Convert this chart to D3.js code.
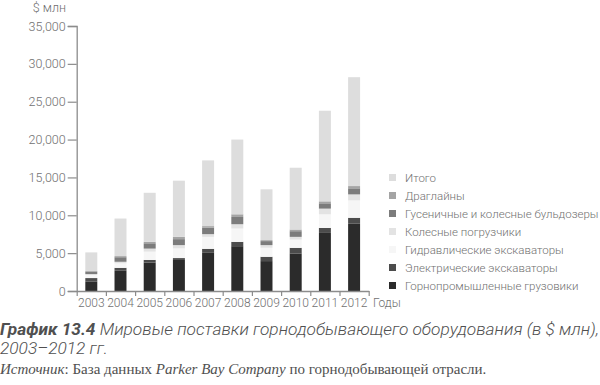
<!DOCTYPE html>
<html>
<head>
<meta charset="utf-8">
<script src="https://cdn.jsdelivr.net/npm/d3@7"></script>
<style>
  body { margin: 0; background: #fff; }
  svg { display: block; }
</style>
</head>
<body>
<div id="chart"></div>
<script>
var svgWidth = 600;
var svgHeight = 385;

// data, $ mln
var years = ["2003", "2004", "2005", "2006", "2007", "2008", "2009", "2010", "2011", "2012"];
var trucks     = [1220, 2670, 3750, 4100, 5040, 5920, 3950, 4960, 7670, 8880];
var electric   = [490, 390, 350, 250, 530, 570, 570, 740, 660, 790];
var hydraulic  = [400, 600, 1100, 1280, 1580, 1760, 1190, 1100, 1800, 2300];
var loaders    = [130, 200, 400, 430, 360, 570, 350, 350, 750, 790];
var bulldozers = [300, 600, 700, 790, 860, 960, 530, 750, 700, 800];
var draglines  = [100, 150, 200, 300, 200, 350, 130, 220, 260, 300];
var totals     = [2460, 4960, 6470, 7420, 8680, 9870, 6710, 8160, 11970, 14380];
var yTicks = [0, 5000, 10000, 15000, 20000, 25000, 30000, 35000];

// series bottom -> top
var series = [
  {key: "trucks", name: "Горнопромышленные грузовики", values: trucks, color: "#2b2b2b"},
  {key: "electric", name: "Электрические экскаваторы", values: electric, color: "#4c4c4c"},
  {key: "hydraulic", name: "Гидравлические экскаваторы", values: hydraulic, color: "#f6f6f6"},
  {key: "loaders", name: "Колесные погрузчики", values: loaders, color: "#e3e3e3"},
  {key: "bulldozers", name: "Гусеничные и колесные бульдозеры", values: bulldozers, color: "#7c7c7c"},
  {key: "draglines", name: "Драглайны", values: draglines, color: "#a4a4a4"},
  {key: "total", name: "Итого", values: totals, color: "#dddddd"}
];

var table = years.map(function(y, i) {
  var row = {year: y};
  series.forEach(function(s) { row[s.key] = s.values[i]; });
  return row;
});

var stacked = d3.stack().keys(series.map(function(s) { return s.key; }))(table);

var svg = d3.select("#chart").append("svg")
  .attr("width", svgWidth)
  .attr("height", svgHeight);

var x0 = 76.7, x1 = 368.7, yBottom = 291, yTop = 26;

var xScale = d3.scaleBand()
  .domain(years)
  .range([x0, x1])
  .paddingInner(0.59)
  .paddingOuter(0.295);

var yScale = d3.scaleLinear()
  .domain([0, 35000])
  .range([yBottom, yTop]);

var axisColor = "#8c8c8c";
var textColor = "#707070";

// bars
svg.append("g").selectAll("g")
  .data(stacked)
  .enter()
  .append("g")
  .attr("fill", function(d, i) { return series[i].color; })
  .selectAll("rect")
  .data(function(d) { return d; })
  .enter()
  .append("rect")
  .attr("x", function(d) { return xScale(d.data.year); })
  .attr("y", function(d) { return yScale(d[1]); })
  .attr("height", function(d) { return yScale(d[0]) - yScale(d[1]); })
  .attr("width", xScale.bandwidth());

// y axis
var yAxis = svg.append("g")
  .attr("transform", "translate(" + x0 + ",0)")
  .call(d3.axisLeft(yScale).tickValues(yTicks).tickSize(9).tickPadding(2)
    .tickFormat(d3.format(",")));
yAxis.select(".domain").attr("stroke", axisColor).attr("stroke-width", 1.3);
yAxis.selectAll(".tick line").attr("stroke", axisColor).attr("stroke-width", 1.2);
yAxis.selectAll("text")
  .attr("fill", textColor)
  .style("font-family", "Roboto")
  .style("font-size", "12.5px")
  .style("font-weight", 300);

// x axis: ticks on band edges
var edgeScale = d3.scaleLinear().domain([0, years.length]).range([x0, x1]);
var xAxis = svg.append("g")
  .attr("transform", "translate(0," + yBottom + ")")
  .call(d3.axisBottom(edgeScale).tickValues(d3.range(years.length + 1))
    .tickSize(5).tickSizeOuter(0).tickFormat(""));
xAxis.select(".domain").attr("stroke", axisColor).attr("stroke-width", 1.3);
xAxis.selectAll(".tick line").attr("stroke", axisColor).attr("stroke-width", 1.2);

// year labels
svg.append("g").selectAll("text")
  .data(years)
  .enter()
  .append("text")
  .attr("x", function(d) { return xScale(d) + xScale.bandwidth() / 2; })
  .attr("y", 307)
  .attr("text-anchor", "middle")
  .attr("fill", textColor)
  .style("font-family", "Roboto")
  .style("font-size", "12px")
  .style("font-weight", 300)
  .text(function(d) { return d; });

svg.append("text")
  .attr("x", 373)
  .attr("y", 307)
  .attr("fill", textColor)
  .style("font-family", "Roboto")
  .style("font-size", "12px")
  .style("font-weight", 300)
  .text("Годы");

svg.append("text")
  .attr("x", 66)
  .attr("y", 12)
  .attr("text-anchor", "end")
  .attr("fill", textColor)
  .style("font-family", "Roboto")
  .style("font-size", "12.5px")
  .style("font-weight", 300)
  .text("$ млн");

// legend, top -> bottom
var legendItems = series.slice().reverse();
var legend = svg.append("g").selectAll("g")
  .data(legendItems)
  .enter()
  .append("g")
  .attr("transform", function(d, i) { return "translate(389," + (177.5 + i * 18) + ")"; });

legend.append("rect")
  .attr("x", 0)
  .attr("y", -3.5)
  .attr("width", 7)
  .attr("height", 7)
  .attr("fill", function(d) { return d.color; });

legend.append("text")
  .attr("x", 16)
  .attr("y", 4)
  .attr("fill", textColor)
  .style("font-family", "Roboto")
  .style("font-size", "11.5px")
  .style("font-weight", 300)
  .text(function(d) { return d.name; });

// caption
var caption = svg.append("text")
  .attr("x", 0)
  .attr("y", 335)
  .attr("fill", "#505050")
  .style("font-family", "Roboto")
  .style("font-size", "17.3px")
  .style("font-style", "italic");
caption.append("tspan").style("font-weight", 700).text("График 13.4 ");
caption.append("tspan").style("font-weight", 300)
  .text("Мировые поставки горнодобывающего оборудования (в $ млн),");

svg.append("text")
  .attr("x", 0)
  .attr("y", 354)
  .attr("fill", "#505050")
  .style("font-family", "Roboto")
  .style("font-size", "17.3px")
  .style("font-style", "italic")
  .style("font-weight", 300)
  .text("2003–2012 гг.");

var source = svg.append("text")
  .attr("x", 0)
  .attr("y", 374)
  .attr("fill", "#505050")
  .style("font-family", "Liberation Serif")
  .style("font-size", "15px");
source.append("tspan").style("font-style", "italic").text("Источник");
source.append("tspan").text(": База данных ");
source.append("tspan").style("font-style", "italic").text("Parker Bay Company");
source.append("tspan").text(" по горнодобывающей отрасли.");
</script>
</body>
</html>
